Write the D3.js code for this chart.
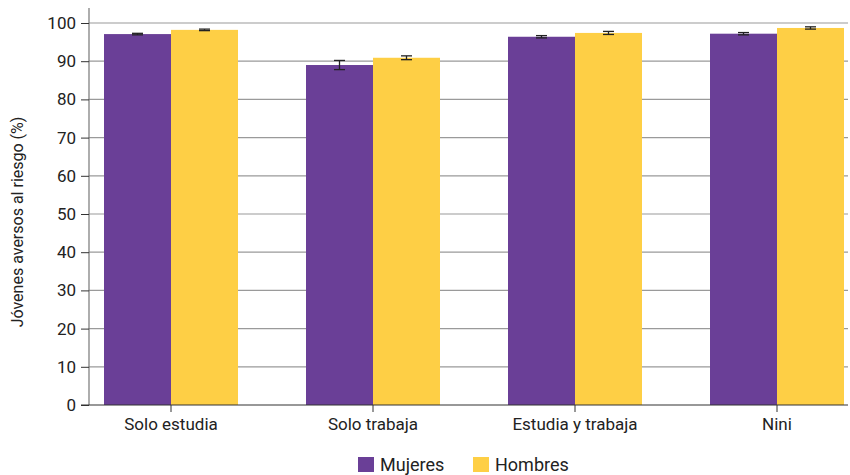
<!DOCTYPE html>
<html><head><meta charset="utf-8">
<script src="https://cdn.jsdelivr.net/npm/d3@7"></script>
<style>
body{margin:0;background:#fff;}
text{font-family:"Roboto",sans-serif;fill:#222;}
</style></head>
<body><svg id="c" width="850" height="475"></svg>
<script>
const categories = ["Solo estudia","Solo trabaja","Estudia y trabaja","Nini"];
const seriesNames = ["Mujeres","Hombres"];
const mujeres = [97.1, 89.0, 96.4, 97.2];
const hombres = [98.2, 90.9, 97.4, 98.7];
const mujeresErr = [0.2, 1.2, 0.3, 0.3];
const hombresErr = [0.2, 0.5, 0.4, 0.3];
const yTicks = [0,10,20,30,40,50,60,70,80,90,100];
const colors = ["#6a3f97","#fecf45"];

const svg = d3.select("#c");
const y = d3.scaleLinear().domain([0,100]).range([405,23]);
const x = d3.scaleBand().domain(categories).range([70,878]).paddingInner(0).paddingOuter(0);
const inner = d3.scaleBand().domain(seriesNames).range([34, x.bandwidth()-34]);

svg.append("g").selectAll("line").data(yTicks.filter(d=>d>0)).join("line")
  .attr("x1",89).attr("x2",848).attr("y1",d=>y(d)).attr("y2",d=>y(d))
  .attr("stroke","#9a9a9a").attr("stroke-width",1.2);

const series = [mujeres, hombres];
const errs = [mujeresErr, hombresErr];
const g = svg.append("g");
seriesNames.forEach((s,si)=>{
  g.selectAll(null).data(categories).join("rect")
    .attr("x",c=>x(c)+inner(s)).attr("width",inner.bandwidth())
    .attr("y",(c,i)=>y(series[si][i])).attr("height",(c,i)=>y(0)-y(series[si][i]))
    .attr("fill",colors[si]);
});
seriesNames.forEach((s,si)=>{
  categories.forEach((c,i)=>{
    const cx = x(c)+inner(s)+inner.bandwidth()/2;
    const v = series[si][i], e = errs[si][i];
    const eg = g.append("g").attr("stroke","#222").attr("stroke-width",1.3);
    eg.append("line").attr("x1",cx).attr("x2",cx).attr("y1",y(v+e)).attr("y2",y(v-e));
    eg.append("line").attr("x1",cx-5.5).attr("x2",cx+5.5).attr("y1",y(v+e)).attr("y2",y(v+e));
    eg.append("line").attr("x1",cx-5.5).attr("x2",cx+5.5).attr("y1",y(v-e)).attr("y2",y(v-e));
  });
});

const yAxis = svg.append("g").attr("transform","translate(89,0)")
  .call(d3.axisLeft(y).tickValues(yTicks).tickSize(8).tickPadding(5));
yAxis.select(".domain").attr("stroke","#777").attr("stroke-width",1.2).attr("d","M0,405V8");
yAxis.selectAll(".tick line").attr("stroke","#333");
yAxis.selectAll("text").attr("font-size",17).attr("fill","#222").style("font-family","Roboto,sans-serif");

const xAxis = svg.append("g").attr("transform","translate(0,405)")
  .call(d3.axisBottom(x).tickSize(7).tickPadding(6));
xAxis.select(".domain").attr("d","M81,0H848").attr("stroke","#333").attr("stroke-width",1.2);
xAxis.selectAll(".tick line").attr("stroke","#333");
xAxis.selectAll("text").attr("font-size",17).attr("fill","#222").style("font-family","Roboto,sans-serif");

svg.append("text").attr("transform","translate(23,222) rotate(-90)")
  .attr("text-anchor","middle").attr("font-size",16).text("Jóvenes aversos al riesgo (%)");

const legX = [358, 473];
seriesNames.forEach((s,i)=>{
  svg.append("rect").attr("x",legX[i]).attr("y",457).attr("width",16).attr("height",15).attr("fill",colors[i]);
  svg.append("text").attr("x",legX[i]+22).attr("y",471).attr("font-size",18).text(s);
});
</script></body></html>
